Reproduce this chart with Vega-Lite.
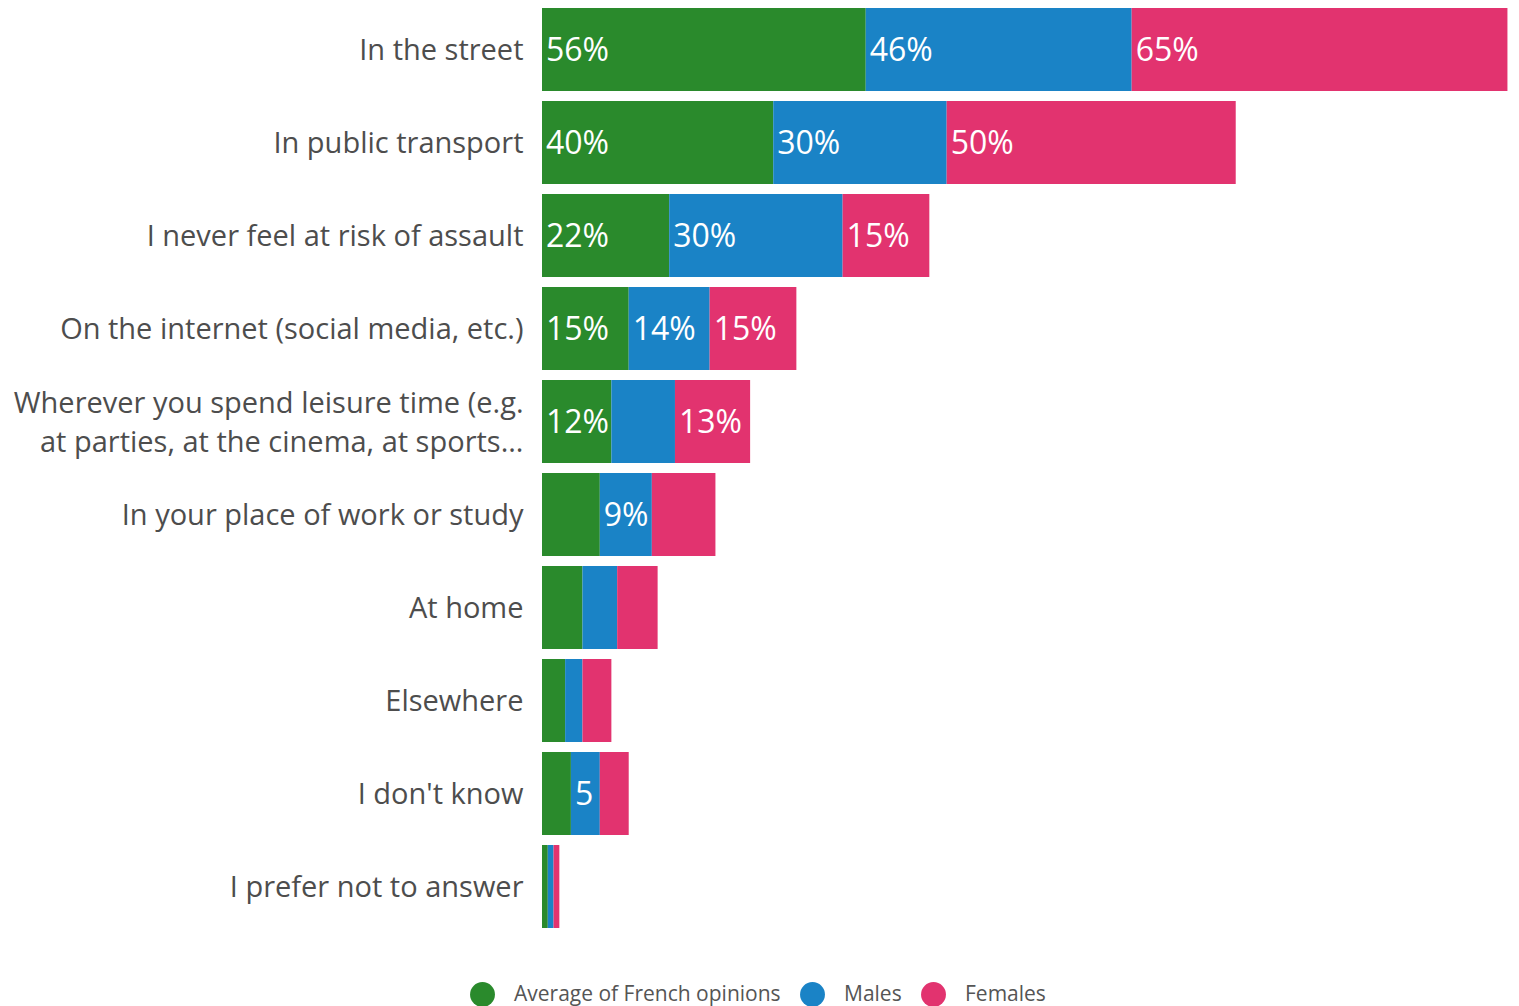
{
  "$schema": "https://vega.github.io/schema/vega-lite/v6.json",
  "width": 977,
  "height": 930,
  "autosize": {"type": "none"},
  "padding": {"left": 542, "top": 3, "right": 0, "bottom": 73},
  "background": "white",
  "config": {"view": {"stroke": null}, "font": "Open Sans"},
  "data": {"values": [
    {"category": "In the street", "series": "Average of French opinions", "order": 1, "value": 56, "label": "56%"},
    {"category": "In the street", "series": "Males", "order": 2, "value": 46, "label": "46%"},
    {"category": "In the street", "series": "Females", "order": 3, "value": 65, "label": "65%"},
    {"category": "In public transport", "series": "Average of French opinions", "order": 1, "value": 40, "label": "40%"},
    {"category": "In public transport", "series": "Males", "order": 2, "value": 30, "label": "30%"},
    {"category": "In public transport", "series": "Females", "order": 3, "value": 50, "label": "50%"},
    {"category": "I never feel at risk of assault", "series": "Average of French opinions", "order": 1, "value": 22, "label": "22%"},
    {"category": "I never feel at risk of assault", "series": "Males", "order": 2, "value": 30, "label": "30%"},
    {"category": "I never feel at risk of assault", "series": "Females", "order": 3, "value": 15, "label": "15%"},
    {"category": "On the internet (social media, etc.)", "series": "Average of French opinions", "order": 1, "value": 15, "label": "15%"},
    {"category": "On the internet (social media, etc.)", "series": "Males", "order": 2, "value": 14, "label": "14%"},
    {"category": "On the internet (social media, etc.)", "series": "Females", "order": 3, "value": 15, "label": "15%"},
    {"category": "Wherever you spend leisure time (e.g.|at parties, at the cinema, at sports...", "series": "Average of French opinions", "order": 1, "value": 12, "label": "12%"},
    {"category": "Wherever you spend leisure time (e.g.|at parties, at the cinema, at sports...", "series": "Males", "order": 2, "value": 11, "label": ""},
    {"category": "Wherever you spend leisure time (e.g.|at parties, at the cinema, at sports...", "series": "Females", "order": 3, "value": 13, "label": "13%"},
    {"category": "In your place of work or study", "series": "Average of French opinions", "order": 1, "value": 10, "label": ""},
    {"category": "In your place of work or study", "series": "Males", "order": 2, "value": 9, "label": "9%"},
    {"category": "In your place of work or study", "series": "Females", "order": 3, "value": 11, "label": ""},
    {"category": "At home", "series": "Average of French opinions", "order": 1, "value": 7, "label": ""},
    {"category": "At home", "series": "Males", "order": 2, "value": 6, "label": ""},
    {"category": "At home", "series": "Females", "order": 3, "value": 7, "label": ""},
    {"category": "Elsewhere", "series": "Average of French opinions", "order": 1, "value": 4, "label": ""},
    {"category": "Elsewhere", "series": "Males", "order": 2, "value": 3, "label": ""},
    {"category": "Elsewhere", "series": "Females", "order": 3, "value": 5, "label": ""},
    {"category": "I don't know", "series": "Average of French opinions", "order": 1, "value": 5, "label": ""},
    {"category": "I don't know", "series": "Males", "order": 2, "value": 5, "label": "5"},
    {"category": "I don't know", "series": "Females", "order": 3, "value": 5, "label": ""},
    {"category": "I prefer not to answer", "series": "Average of French opinions", "order": 1, "value": 1, "label": ""},
    {"category": "I prefer not to answer", "series": "Males", "order": 2, "value": 1, "label": ""},
    {"category": "I prefer not to answer", "series": "Females", "order": 3, "value": 1, "label": ""}
  ]},
  "transform": [
    {"stack": "value", "groupby": ["category"], "sort": [{"field": "order"}], "as": ["v0", "v1"]}
  ],
  "encoding": {
    "y": {
      "field": "category", "type": "nominal", "sort": null,
      "scale": {"paddingInner": 0.108, "paddingOuter": 0.054},
      "axis": {
        "title": null, "ticks": false, "domain": false, "labelPadding": 19,
        "labelFontSize": 29, "labelColor": "#4d4d4d", "labelFont": "Open Sans",
        "labelLimit": 600, "labelLineHeight": 39,
        "labelOffset": {"condition": {"test": "indexof(datum.label, '|') >= 0", "value": -18}, "value": 1},
        "labelExpr": "split(datum.label, '|')"
      }
    }
  },
  "layer": [
    {
      "mark": {"type": "bar"},
      "encoding": {
        "x": {"field": "v0", "type": "quantitative", "scale": {"domain": [0, 169], "nice": false}, "axis": null},
        "x2": {"field": "v1"},
        "color": {
          "field": "series", "type": "nominal",
          "scale": {"domain": ["Average of French opinions", "Males", "Females"], "range": ["#2a8a2c", "#1a83c6", "#e2336f"]},
          "legend": {
            "title": null, "orient": "none", "direction": "horizontal",
            "legendX": -72, "legendY": 979,
            "symbolType": "circle", "symbolSize": 620, "symbolStrokeWidth": 0,
            "labelFontSize": 21, "labelColor": "#555555", "labelFont": "Open Sans",
            "labelOffset": 19, "columnPadding": 19, "labelLimit": 400
          }
        },
        "order": {"field": "order"}
      }
    },
    {
      "mark": {"type": "text", "align": "left", "baseline": "middle", "dx": 4, "dy": 1, "fontSize": 32, "color": "white", "font": "Open Sans"},
      "encoding": {
        "x": {"field": "v0", "type": "quantitative"},
        "text": {"field": "label"}
      }
    }
  ]
}
